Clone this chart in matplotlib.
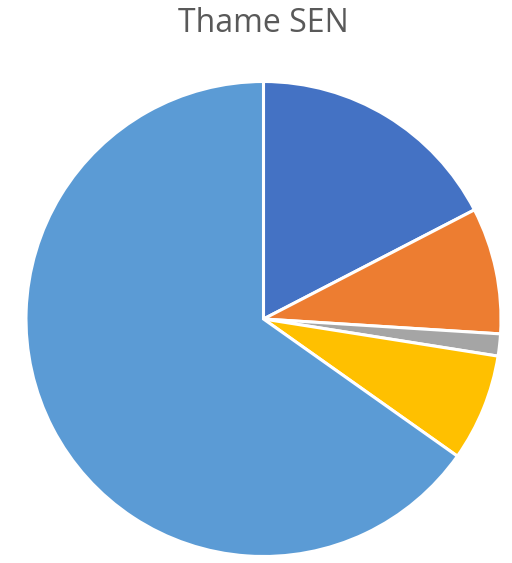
import matplotlib.pyplot as plt

# Slice shares (percent), clockwise from 12 o'clock
categories = ['A', 'B', 'C', 'D', 'E']
shares = [17.4, 8.6, 1.5, 7.3, 65.2]
colours = ['#4472C4', '#ED7D31', '#A5A5A5', '#FFC000', '#5B9BD5']
chart_title = 'Thame SEN'

fig = plt.figure(figsize=(5.12, 5.63), dpi=100)

# pie axes placed so the disc sits where it does in the reference
ax = fig.add_axes([26 / 512, 6.5 / 563, 475 / 512, 475 / 563])
ax.pie(shares, labels=None, colors=colours, startangle=90, counterclock=False,
       wedgeprops=dict(edgecolor='white', linewidth=2.2), radius=1.0)
ax.set_xlim(-1, 1)
ax.set_ylim(-1, 1)
ax.set_aspect('equal')
ax.axis('off')

fig.text(263 / 512, 1 - 24 / 563, chart_title, ha='center', va='center',
         fontsize=23, color='#595959', family=['Open Sans', 'DejaVu Sans'])

fig.savefig('out.png', dpi=100)
